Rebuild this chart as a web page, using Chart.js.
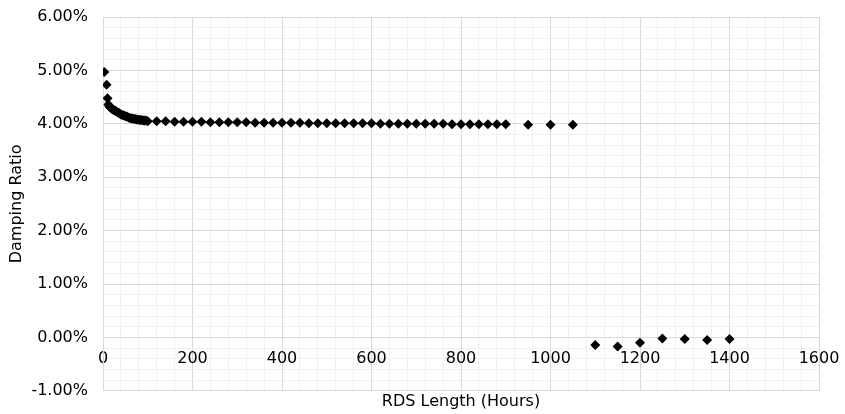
<!DOCTYPE html>
<html>
<head>
<meta charset="utf-8">
<style>
  html, body { margin: 0; padding: 0; background: #fff; }
  #wrap { width: 845px; height: 414px; }
</style>
</head>
<body>
<div id="wrap">
  <canvas id="myChart" width="845" height="414"></canvas>
</div>

<script src="https://cdn.jsdelivr.net/npm/chart.js"></script>
<script>
  // RDS length in hours and damping ratio in percent
  var hours = [3, 8, 10, 12, 14, 16, 18, 20, 22, 24, 26, 28, 30, 33, 36, 39, 42, 45, 48, 51,
    54, 57, 60, 63, 66, 69, 72, 75, 78, 81, 84, 87, 90, 93, 96, 100,
    120, 140, 160, 180, 200, 220, 240, 260, 280, 300, 320, 340, 360, 380, 400, 420, 440, 460, 480, 500,
    520, 540, 560, 580, 600, 620, 640, 660, 680, 700, 720, 740, 760, 780, 800, 820, 840, 860, 880, 900,
    950, 1000, 1050,
    1100, 1150, 1200, 1250, 1300, 1350, 1400]
  var ratio = [4.97, 4.73, 4.48, 4.36, 4.33, 4.31, 4.29, 4.28, 4.27, 4.26, 4.25, 4.24, 4.23, 4.21, 4.20, 4.18, 4.17, 4.16, 4.15, 4.14,
    4.13, 4.12, 4.11, 4.10, 4.10, 4.09, 4.09, 4.08, 4.08, 4.07, 4.07, 4.07, 4.06, 4.06, 4.06, 4.05,
    4.05, 4.05, 4.04, 4.04, 4.04, 4.04, 4.03, 4.03, 4.03, 4.03, 4.03, 4.02, 4.02, 4.02, 4.02, 4.02, 4.02, 4.01, 4.01, 4.01,
    4.01, 4.01, 4.01, 4.01, 4.01, 4.00, 4.00, 4.00, 4.00, 4.00, 4.00, 4.00, 4.00, 3.99, 3.99, 3.99, 3.99, 3.99, 3.99, 3.99,
    3.98, 3.98, 3.98,
    -0.14, -0.17, -0.10, -0.02, -0.03, -0.05, -0.03]

  var xTitle = 'RDS Length (Hours)'
  var yTitle = 'Damping Ratio'

  var pts = hours.map((h, i) => ({ x: h, y: ratio[i] }))

  const FONT = { family: 'DejaVu Sans', size: 16 }
  const MAJOR = '#d9d9d9'
  const MINOR = '#f0f0f0'

  const ctx = document.getElementById('myChart');

  new Chart(ctx, {
    type: 'scatter',
    data: {
      datasets: [{
        label: yTitle,
        data: pts,
        pointStyle: 'rectRot',
        pointRadius: 5,
        pointHoverRadius: 5,
        backgroundColor: '#000',
        borderColor: '#000',
        borderWidth: 0
      }]
    },
    options: {
      responsive: false,
      animation: false,
      events: [],
      layout: { padding: { top: 17, right: 26, left: 4, bottom: 3 } },
      plugins: {
        legend: { display: false },
        tooltip: { enabled: false }
      },
      scales: {
        x: {
          type: 'linear',
          position: { y: 0 },
          min: 0,
          max: 1600,
          // labels hang over the edges, layout padding already covers that
          afterFit: (scale) => { scale.paddingLeft = 0; scale.paddingRight = 0; },
          grid: {
            drawTicks: false,
            color: (c) => (c.tick && c.tick.value % 200 === 0) ? MAJOR : MINOR
          },
          border: { color: MAJOR },
          ticks: {
            stepSize: 40,
            autoSkip: false,
            maxRotation: 0,
            padding: 12,
            color: '#000',
            font: FONT,
            callback: function(value) {
              return value % 200 === 0 ? String(value) : '';
            }
          }
        },
        x2: {
          type: 'linear',
          position: 'bottom',
          min: 0,
          max: 1600,
          grid: { display: false, drawTicks: false },
          border: { display: false },
          ticks: { display: false },
          title: {
            display: true,
            text: xTitle,
            color: '#000',
            font: FONT,
            padding: { top: 1, bottom: 0 }
          }
        },
        y: {
          min: -1,
          max: 6,
          afterFit: (scale) => { scale.width = 99; scale.paddingTop = 0; scale.paddingBottom = 0; },
          grid: {
            drawTicks: false,
            color: (c) => (c.tick && Math.abs(c.tick.value - Math.round(c.tick.value)) < 1e-6) ? MAJOR : MINOR
          },
          border: { color: MAJOR },
          ticks: {
            stepSize: 0.2,
            autoSkip: false,
            padding: 15,
            color: '#000',
            font: FONT,
            callback: function(value) {
              if (Math.abs(value - Math.round(value)) < 1e-6) {
                return Math.round(value).toFixed(2) + '%';
              }
              return '';
            }
          },
          title: {
            display: true,
            text: yTitle,
            color: '#000',
            font: FONT,
            padding: { top: 3.4, bottom: 0 }
          }
        }
      }
    }
  });
</script>
</body>
</html>
